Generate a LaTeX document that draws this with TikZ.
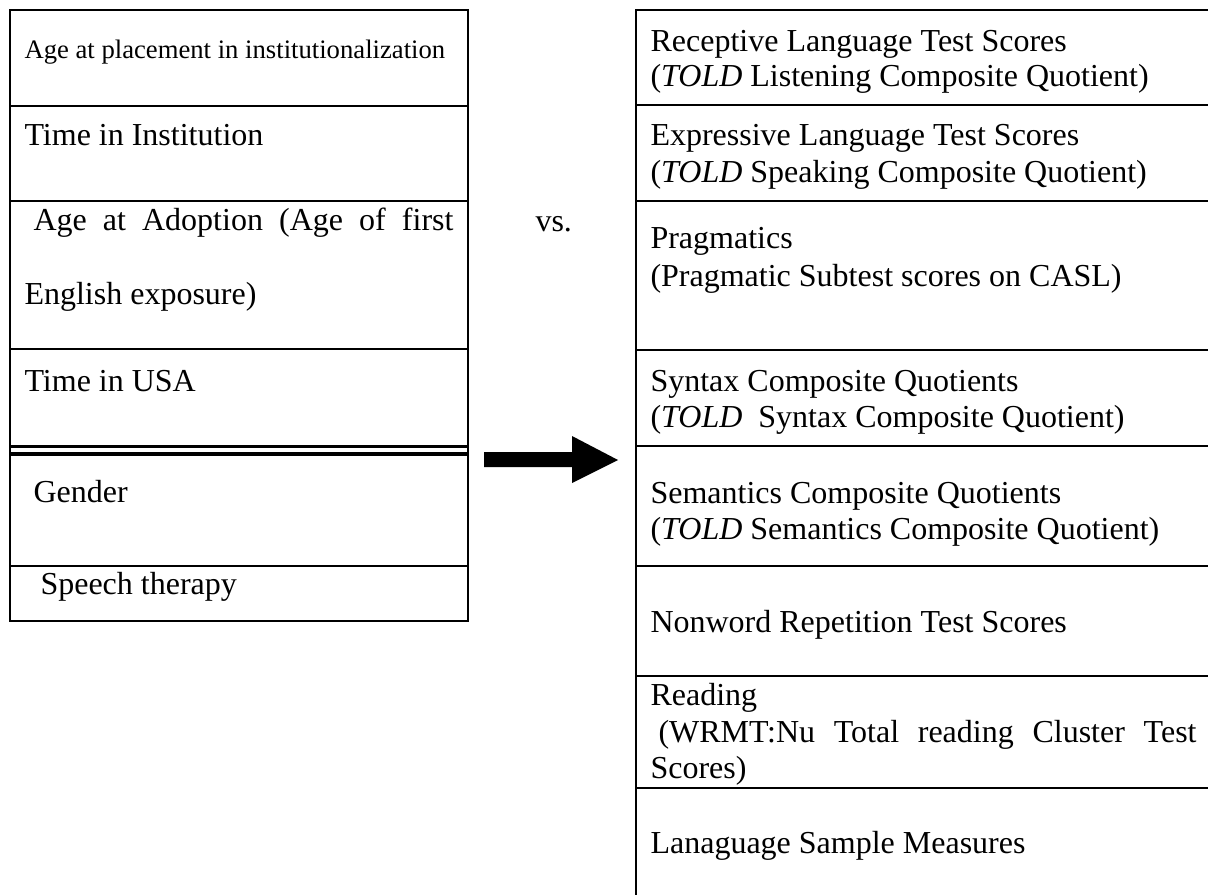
\documentclass[tikz,border=0pt]{standalone}
\usepackage{fontspec}
\setmainfont{Liberation Serif}
\begin{document}
\begin{tikzpicture}[x=0.375pt,y=-0.375pt,
  rule/.style={line width=0.75pt},
  dbl/.style={line width=1.25pt},
  lbl/.style={anchor=base west,inner sep=0pt,font=\fontsize{12}{14}\selectfont},
  sml/.style={anchor=base west,inner sep=0pt,font=\fontsize{10}{12}\selectfont}]
\clip (0,0) rectangle (1208,895);
\useasboundingbox (0,0) rectangle (1208,895);
% ---------- left box ----------
\draw[rule] (10,10) rectangle (468,621);
\draw[rule] (10,106) -- (468,106);
\draw[rule] (10,201) -- (468,201);
\draw[rule] (10,349) -- (468,349);
\draw[dbl] (10,446.5) -- (468,446.5);
\draw[dbl] (10,454) -- (468,454);
\draw[rule] (10,566) -- (468,566);
\node[sml] (l1) at (24,59) {Age at placement in institutionalization};
\node[lbl] (l2) at (24,146) {Time in Institution};
\node[lbl] (l3a) at (33,231) {\makebox[157.5pt][s]{Age at Adoption (Age of first}};
\node[lbl] (l3b) at (24,304) {English exposure)};
\node[lbl] (l4) at (24,391) {Time in USA};
\node[lbl] (l5) at (33,502) {Gender};
\node[lbl] (l6) at (40,594) {Speech therapy};
% ---------- vs ----------
\node[lbl] (vs) at (535,232) {vs.};
% ---------- arrow ----------
\fill (484,452) -- (572,452) -- (572,436) -- (618,460) -- (572,483) -- (572,467) -- (484,467) -- cycle;
% ---------- right box ----------
\draw[rule] (1230,10) -- (636,10) -- (636,910);
\foreach \yy in {105,201,350,446,566,676,788}
  \draw[rule] (636,\yy) -- (1230,\yy);
\node[lbl] (r1a) at (650,52) {Receptive Language Test Scores};
\node[lbl] (r1b) at (650,87) {(\textit{TOLD} Listening Composite Quotient)};
\node[lbl] (r2a) at (650,146) {Expressive Language Test Scores};
\node[lbl] (r2b) at (650,183) {(\textit{TOLD} Speaking Composite Quotient)};
\node[lbl] (r3a) at (650,249) {Pragmatics};
\node[lbl] (r3b) at (650,287) {(Pragmatic Subtest scores on CASL)};
\node[lbl] (r4a) at (650,391) {Syntax Composite Quotients};
\node[lbl] (r4b) at (650,427) {(\textit{TOLD}\ \ Syntax Composite Quotient)};
\node[lbl] (r5a) at (650,503) {Semantics Composite Quotients};
\node[lbl] (r5b) at (650,539) {(\textit{TOLD} Semantics Composite Quotient)};
\node[lbl] (r6) at (650,632) {Nonword Repetition Test Scores};
\node[lbl] (r7a) at (650,705) {Reading};
\node[lbl] (r7b) at (658,742) {\makebox[201.75pt][s]{(WRMT:Nu Total reading Cluster Test}};
\node[lbl] (r7c) at (650,778) {Scores)};
\node[lbl] (r8) at (650,853) {Lanaguage Sample Measures};
\end{tikzpicture}
\end{document}
